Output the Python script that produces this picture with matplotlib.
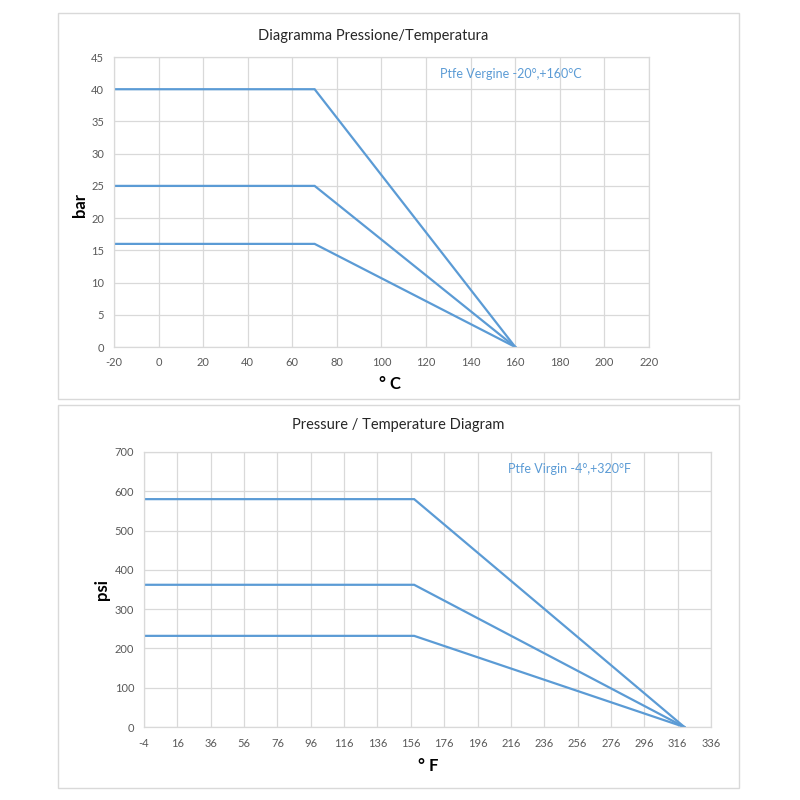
import matplotlib
matplotlib.use("Agg")
import matplotlib.pyplot as plt
from matplotlib.patches import Rectangle

plt.rcParams['font.family'] = ['Lato', 'DejaVu Sans']
plt.rcParams['axes.unicode_minus'] = False

# ---- data ----
temp_c = [-20, 70, 160]
bar_40 = [40, 40, 0]
bar_25 = [25, 25, 0]
bar_16 = [16, 16, 0]
xticks_c = [-20, 0, 20, 40, 60, 80, 100, 120, 140, 160, 180, 200, 220]
yticks_bar = [0, 5, 10, 15, 20, 25, 30, 35, 40, 45]

temp_f = [-4, 158, 320]
psi_580 = [580, 580, 0]
psi_362 = [362, 362, 0]
psi_232 = [232, 232, 0]
xticks_f = [-4, 16, 36, 56, 76, 96, 116, 136, 156, 176, 196, 216, 236, 256, 276, 296, 316, 336]
yticks_psi = [0, 100, 200, 300, 400, 500, 600, 700]

title_top = "Diagramma Pressione/Temperatura"
title_bot = "Pressure / Temperature Diagram"
note_top = "Ptfe Vergine -20°,+160°C"
note_bot = "Ptfe Virgin -4°,+320°F"

LINE = "#5b9bd5"
GRID = "#d9d9d9"
TICK = "#595959"

W = H = 800
fig = plt.figure(figsize=(8, 8), dpi=100)
fig.patch.set_facecolor("white")

def px_axes(l, t, r, b):
    return fig.add_axes([l / W, 1 - b / H, (r - l) / W, (b - t) / H])

def frame(l, t, r, b):
    fig.patches.append(Rectangle((l / W, 1 - b / H), (r - l) / W, (b - t) / H,
                                 transform=fig.transFigure, fill=False,
                                 edgecolor=GRID, linewidth=1.0))

def style(ax, xt, yt, xpad, ypad):
    ax.set_xticks(xt)
    ax.set_yticks(yt)
    ax.set_xticklabels([str(v) for v in xt])
    ax.set_yticklabels([str(v) for v in yt])
    ax.set_xlim(xt[0], xt[-1])
    ax.set_ylim(yt[0], yt[-1])
    ax.grid(True, color=GRID, linewidth=0.9)
    ax.set_axisbelow(True)
    for s in ax.spines.values():
        s.set_color(GRID)
        s.set_linewidth(0.9)
    ax.tick_params(axis='both', length=0, labelsize=8, labelcolor=TICK)
    ax.tick_params(axis='x', pad=xpad)
    ax.tick_params(axis='y', pad=ypad)

frame(58, 13, 739, 399)
frame(58, 405, 739, 788)

# top chart
ax1 = px_axes(114, 57, 649, 347)
for ys in (bar_40, bar_25, bar_16):
    ax1.plot(temp_c, ys, color=LINE, linewidth=1.6, solid_joinstyle='miter')
style(ax1, xticks_c, yticks_bar, 7, 7)
ax1.text(0.609, 0.941, note_top, transform=ax1.transAxes, color=LINE,
         fontsize=9, ha='left', va='center')
fig.text(373 / W, 1 - 36 / H, title_top, ha='center', va='center', fontsize=10.5, color="#262626")
fig.text(80 / W, 1 - 205 / H, "bar", ha='center', va='center', rotation=90,
         fontsize=12, fontweight='bold', color="#000000")
fig.text(390 / W, 1 - 384 / H, "° C", ha='center', va='center',
         fontsize=12, fontweight='bold', color="#000000")

# bottom chart
ax2 = px_axes(144, 452, 711, 727)
for ys in (psi_580, psi_362, psi_232):
    ax2.plot(temp_f, ys, color=LINE, linewidth=1.6, solid_joinstyle='miter')
style(ax2, xticks_f, yticks_psi, 8, 7)
ax2.text(0.642, 0.938, note_bot, transform=ax2.transAxes, color=LINE,
         fontsize=9, ha='left', va='center')
fig.text(398 / W, 1 - 425 / H, title_bot, ha='center', va='center', fontsize=10.5, color="#262626")
fig.text(102 / W, 1 - 590 / H, "psi", ha='center', va='center', rotation=90,
         fontsize=12, fontweight='bold', color="#000000")
fig.text(428 / W, 1 - 766 / H, "° F", ha='center', va='center',
         fontsize=12, fontweight='bold', color="#000000")

fig.savefig("out.png", dpi=100, facecolor="white")
